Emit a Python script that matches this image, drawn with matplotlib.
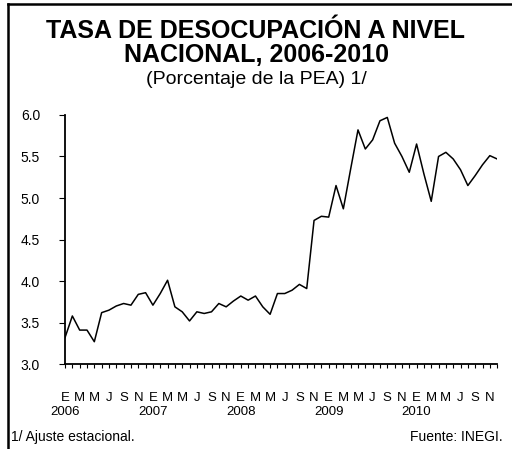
import matplotlib.pyplot as plt
import matplotlib.transforms as mtransforms
from matplotlib.lines import Line2D

plt.rcParams['font.family'] = ['Liberation Sans', 'DejaVu Sans']

# monthly unemployment rate, Jan 2006 - Dec 2010 (seasonally adjusted)
tasa = [3.32, 3.58, 3.41, 3.41, 3.27, 3.62, 3.65, 3.70, 3.73, 3.71, 3.84, 3.86,
        3.71, 3.85, 4.01, 3.69, 3.63, 3.52, 3.63, 3.61, 3.63, 3.73, 3.69, 3.76,
        3.82, 3.77, 3.82, 3.69, 3.60, 3.85, 3.85, 3.89, 3.96, 3.91, 4.73, 4.78,
        4.77, 5.15, 4.87, 5.35, 5.82, 5.59, 5.70, 5.93, 5.97, 5.66, 5.50, 5.31,
        5.65, 5.29, 4.96, 5.50, 5.55, 5.47, 5.34, 5.15, 5.27, 5.40, 5.51, 5.47]
meses = ["E", "M", "M", "J", "S", "N"]
anios = ["2006", "2007", "2008", "2009", "2010"]

fig = plt.figure(figsize=(5.12, 4.49), dpi=100)
ax = fig.add_axes([0.127, 0.189, 0.844, 0.555])

x = list(range(len(tasa)))
ax.plot(x, tasa, color="black", linewidth=1.1)

ax.set_xlim(0, len(tasa) - 1)
ax.set_ylim(3.0, 6.0)
ax.set_yticks([3.0, 3.5, 4.0, 4.5, 5.0, 5.5, 6.0])
ax.set_yticklabels(["%.1f" % v for v in ax.get_yticks()], fontsize=10)
ax.set_xticks(range(0, len(tasa), 2))
ax.set_xticklabels(meses * len(anios), fontsize=9.5)
ax.set_xticks(range(len(tasa)), minor=True)
ax.tick_params(axis="x", which="both", length=3, width=0.8, pad=17)
ax.tick_params(axis="y", length=4, width=0.8, pad=14)

for s in ["top", "right"]:
    ax.spines[s].set_visible(False)
for s in ["left", "bottom"]:
    ax.spines[s].set_linewidth(1.3)

trans = mtransforms.blended_transform_factory(ax.transData, fig.transFigure)
for i, a in enumerate(anios):
    ax.text(i * 12, 1 - 412 / 449, a, transform=trans, ha="center", va="center",
            fontsize=9.5)

fig.text(0.5, 1 - 31 / 449, "TASA DE DESOCUPACIÓN A NIVEL", ha="center",
         va="center", fontsize=18, fontweight="bold")
fig.text(0.5, 1 - 55 / 449, "NACIONAL, 2006-2010", ha="center",
         va="center", fontsize=18, fontweight="bold")
fig.text(0.5, 1 - 80 / 449, "(Porcentaje de la PEA) 1/", ha="center",
         va="center", fontsize=14)

fig.text(11 / 512, 1 - 437 / 449, "1/ Ajuste estacional.", ha="left",
         va="center", fontsize=10)
fig.text(503 / 512, 1 - 437 / 449, "Fuente: INEGI.", ha="right",
         va="center", fontsize=10)

# frame lines (top and left)
fig.add_artist(Line2D([8 / 512, 1], [1 - 4 / 449, 1 - 4 / 449], color="black",
                      linewidth=1.8, transform=fig.transFigure))
fig.add_artist(Line2D([8 / 512, 8 / 512], [0, 1 - 4 / 449], color="black",
                      linewidth=1.8, transform=fig.transFigure))

fig.savefig("out.png", dpi=100)
